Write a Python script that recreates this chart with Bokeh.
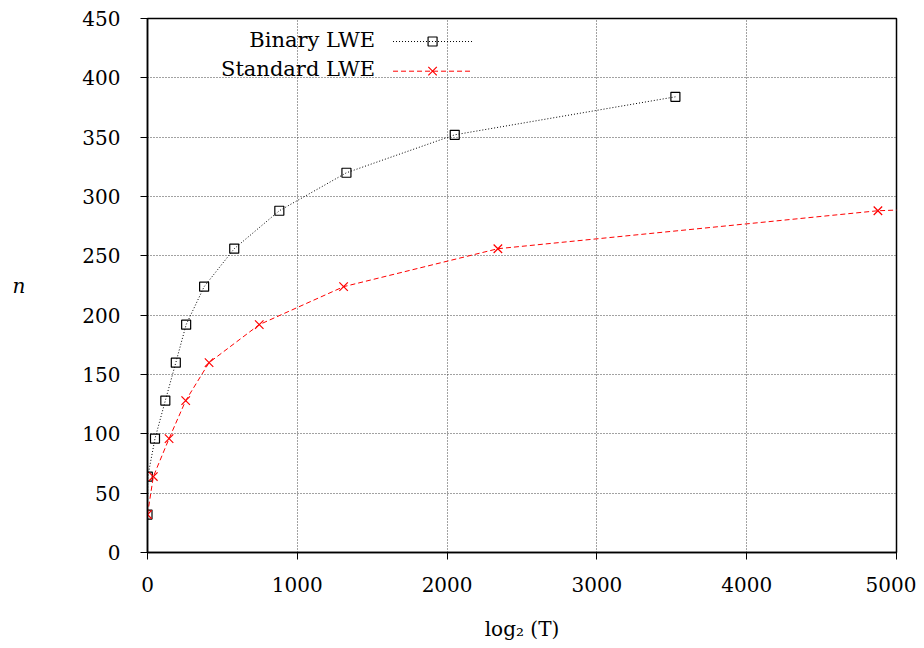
from bokeh.plotting import figure
from bokeh.embed import file_html
from bokeh.resources import INLINE
from bokeh.models import Label, FixedTicker, Range1d

# ---- data ----
binary_x = [0, 2, 50, 119, 189, 258, 378, 579, 880, 1328, 2051, 3524]
binary_n = [32, 64, 96, 128, 160, 192, 224, 256, 288, 320, 352, 384]
standard_x = [0, 39, 144, 255, 411, 746, 1309, 2339, 4876, 12000]
standard_n = [32, 64, 96, 128, 160, 192, 224, 256, 288, 320]
x_ticks = [0, 1000, 2000, 3000, 4000, 5000]
y_ticks = [0, 50, 100, 150, 200, 250, 300, 350, 400, 450]
series_names = ["Binary LWE", "Standard LWE"]

FONT = "DejaVu Serif"
FS = "20px"

p = figure(frame_width=749, frame_height=534, output_backend="svg", toolbar_location=None,
           x_range=Range1d(0, 5000), y_range=Range1d(0, 450),
           min_border_left=147, min_border_right=20, min_border_top=18, min_border_bottom=60)

p.outline_line_color = "black"
p.outline_line_width = 1.5
p.background_fill_color = "white"

for ax in (p.xaxis[0], p.yaxis[0]):
    ax.major_label_text_font = FONT
    ax.major_label_text_font_size = FS
    ax.major_label_text_color = "black"
    ax.axis_label_text_font = FONT
    ax.axis_label_text_font_size = FS
    ax.axis_label_text_font_style = "normal"
    ax.axis_label_text_color = "black"
    ax.axis_line_color = "black"
    ax.axis_line_width = 1.5
    ax.major_tick_line_color = "black"
    ax.major_tick_out = 7
    ax.major_tick_in = 0
    ax.minor_tick_line_color = None

p.xaxis.ticker = FixedTicker(ticks=x_ticks)
p.yaxis.ticker = FixedTicker(ticks=y_ticks)
p.xaxis.major_label_standoff = 17
p.yaxis.major_label_standoff = 20
p.xaxis.axis_label = "log\u2082 (T)"
p.xaxis.axis_label_standoff = 22
p.yaxis.axis_label = "n"
p.yaxis.axis_label_text_font_style = "italic"
p.yaxis.axis_label_orientation = "horizontal"
p.yaxis.axis_label_standoff = 54

p.xgrid.grid_line_color = "#444444"
p.ygrid.grid_line_color = "#444444"
p.xgrid.grid_line_dash = "1 2"
p.ygrid.grid_line_dash = "1 2"
p.xgrid.grid_line_width = 1
p.ygrid.grid_line_width = 1

# series
p.line(binary_x, binary_n, line_color="black", line_dash="1 2", line_width=1)
p.scatter(binary_x, binary_n, marker="square", size=9, fill_color=None,
          line_color="black", line_width=1.2)
p.line(standard_x, standard_n, line_color="red", line_dash="5 3", line_width=1)
p.scatter(standard_x, standard_n, marker="x", size=12, line_color="red", line_width=1.2)

# manual legend (text on the left, sample on the right, as in gnuplot)
leg_x0, leg_x1, leg_xm, leg_text_x = 1639, 2167, 1903, 1519
leg_rows = [430.6, 405.6]
styles = [dict(color="black", dash="1 2", marker="square", size=9),
          dict(color="red", dash="5 3", marker="x", size=12)]
for name, yy, st in zip(series_names, leg_rows, styles):
    p.line([leg_x0, leg_x1], [yy, yy], line_color=st["color"], line_dash=st["dash"], line_width=1)
    p.scatter([leg_xm], [yy], marker=st["marker"], size=st["size"], fill_color=None,
              line_color=st["color"], line_width=1.2)
    p.add_layout(Label(x=leg_text_x, y=yy, text=name, text_align="right", text_baseline="middle",
                       y_offset=2, text_font=FONT, text_font_size="21px", text_color="black"))

open("out.html", "w").write(file_html(p, INLINE))
